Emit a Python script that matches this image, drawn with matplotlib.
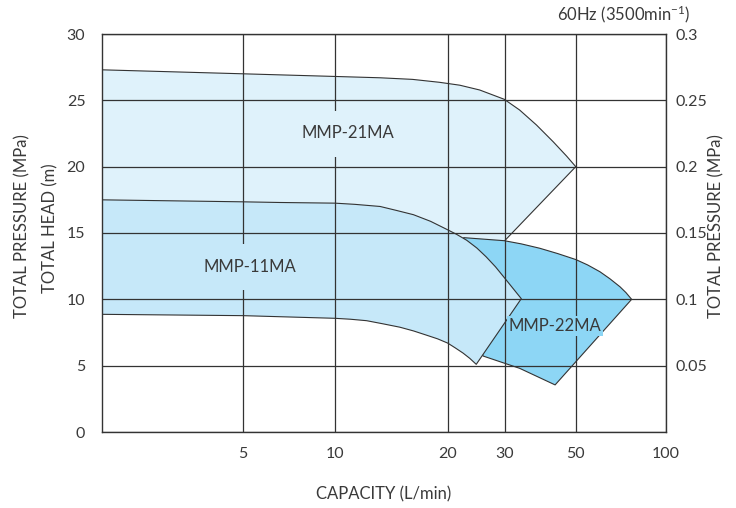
import numpy as np
import matplotlib
matplotlib.use("Agg")
import matplotlib.pyplot as plt
from matplotlib.patches import Polygon

plt.rcParams['font.family'] = ['Lato', 'DejaVu Sans']
plt.rcParams['mathtext.fontset'] = 'custom'
plt.rcParams['mathtext.rm'] = 'Lato'
plt.rcParams['mathtext.default'] = 'regular'
TXT = '#3a3a3a'
LINE = '#333333'

# capacity axis (L/min) - chart uses a hand drawn log-like spacing
X_MIN, X_MAX = 2, 100
x_ticks = [5, 10, 20, 30, 50, 100]
x_tick_labels = ['5', '10', '20', '30', '50', '100']
# where each tick sits along the axis (0..1)
x_knots = [X_MIN, 5, 10, 20, 30, 50, 100]
x_knot_pos = [0.0, 0.250, 0.413, 0.613, 0.714, 0.840, 1.0]

h_ticks = [0, 5, 10, 15, 20, 25, 30]
p_ticks = [0.05, 0.1, 0.15, 0.2, 0.25, 0.3]
p_tick_labels = ['0.05', '0.1', '0.15', '0.2', '0.25', '0.3']

# MMP-21MA
mmp21_top_q = [2, 5, 10, 13.2, 16.1, 19.0, 21.8, 25.1, 29.9, 33.4, 37.7, 42.5, 46.8, 50]
mmp21_top_h = [27.3, 27.0, 26.8, 26.7, 26.58, 26.36, 26.14, 25.78, 25.08, 24.27, 23.14, 21.88, 20.8, 20.0]
mmp21_low_q = [30, 30, 2]
mmp21_low_h = [14.42, 11, 11]

# MMP-11MA
mmp11_top_q = [2, 5, 6.6, 10, 11.3, 13.2, 14.6, 16.2, 18.0, 19.8, 21.3, 22.9, 24.6, 26.3, 28.1, 30, 33.8]
mmp11_top_h = [17.5, 17.35, 17.3, 17.25, 17.16, 17.0, 16.7, 16.38, 15.88, 15.3, 14.9, 14.45, 13.87, 13.2, 12.45, 11.6, 10.05]
mmp11_bot_q = [24.5, 23.4, 22.3, 21.1, 20, 18.8, 17.55, 16.2, 14.9, 13.4, 12.15, 11.0, 10, 5, 2]
mmp11_bot_h = [5.1, 5.55, 5.95, 6.34, 6.7, 7.02, 7.3, 7.62, 7.9, 8.16, 8.39, 8.5, 8.57, 8.77, 8.87]

# MMP-22MA
mmp22_top_q = [22.4, 29.9, 33.8, 38.6, 43.9, 50, 54.8, 60.2, 65.0, 70.2, 73.5, 76.8]
mmp22_top_h = [14.65, 14.42, 14.18, 13.85, 13.45, 13.0, 12.59, 12.08, 11.55, 10.95, 10.51, 10.0]
mmp22_bot_q = [43.1, 33.4, 25.7]
mmp22_bot_h = [3.55, 4.8, 5.73]

c21, c11, c22 = '#dff2fb', '#c6e8f9', '#8dd6f5'

lk = np.log10(x_knots)


def fwd(x):
    x = np.clip(np.asarray(x, dtype=float), 1e-3, None)
    return np.interp(np.log10(x), lk, x_knot_pos, left=-1, right=2)


def inv(p):
    return 10 ** np.interp(p, x_knot_pos, lk)


fig = plt.figure(figsize=(7.36, 5.08), dpi=100)
ax = fig.add_axes([102 / 736, 76 / 508, 564 / 736, 398 / 508])
ax.set_xscale('function', functions=(fwd, inv))
ax.set_xlim(X_MIN, X_MAX)
ax.set_ylim(0, 30)


def region(q, h, color, z):
    pts = np.column_stack([q, h])
    ax.add_patch(Polygon(pts, closed=True, facecolor=color, edgecolor=LINE,
                         linewidth=0.8, joinstyle='round', zorder=z))


region(mmp21_top_q + mmp21_low_q, mmp21_top_h + mmp21_low_h, c21, 1.0)
region(mmp22_top_q + mmp22_bot_q, mmp22_top_h + mmp22_bot_h, c22, 1.1)
region(mmp11_top_q + mmp11_bot_q, mmp11_top_h + mmp11_bot_h, c11, 1.2)

ax.set_xticks(x_ticks)
ax.set_xticklabels(x_tick_labels)
ax.set_xticks([], minor=True)
ax.set_yticks(h_ticks)
ax.tick_params(length=0, labelsize=11.5, labelcolor=TXT)
ax.tick_params(axis='x', pad=11)
ax.tick_params(axis='y', pad=12)
ax.set_axisbelow(False)
ax.grid(True, color=LINE, linewidth=0.9)
for s in ax.spines.values():
    s.set_color(LINE)
    s.set_linewidth(1.0)

sec = ax.secondary_yaxis('right', functions=(lambda h: h / 100, lambda p: p * 100))
sec.set_yticks(p_ticks)
sec.set_yticklabels(p_tick_labels)
sec.tick_params(length=0, labelsize=11.5, labelcolor=TXT, pad=7)
sec.spines['right'].set_visible(False)

lab = dict(fontsize=12, color=TXT, ha='center', va='center', zorder=3)
ax.text(10.8, 22.5, 'MMP-21MA', bbox=dict(boxstyle='square,pad=0.9', fc=c21, ec='none'), **lab)
ax.text(5.27, 12.45, 'MMP-11MA', bbox=dict(boxstyle='square,pad=0.9', fc=c11, ec='none'), **lab)
ax.text(43.1, 8.0, 'MMP-22MA', bbox=dict(boxstyle='square,pad=0.12', fc=c22, ec='none'), **lab)

fig.text(22 / 736, 1 - 226 / 508, 'TOTAL PRESSURE (MPa)', rotation=90, fontsize=12,
         color=TXT, ha='center', va='center')
fig.text(50 / 736, 1 - 228 / 508, 'TOTAL HEAD (m)', rotation=90, fontsize=12,
         color=TXT, ha='center', va='center')
fig.text(716 / 736, 1 - 226 / 508, 'TOTAL PRESSURE (MPa)', rotation=90, fontsize=12,
         color=TXT, ha='center', va='center')
fig.text(384 / 736, 1 - 494 / 508, 'CAPACITY (L/min)', fontsize=12,
         color=TXT, ha='center', va='center')
fig.text(690 / 736, 1 - 14 / 508, '60Hz (3500min$^{-1}$)', fontsize=12,
         color=TXT, ha='right', va='center')

fig.savefig('out.png', dpi=100, facecolor='white')
